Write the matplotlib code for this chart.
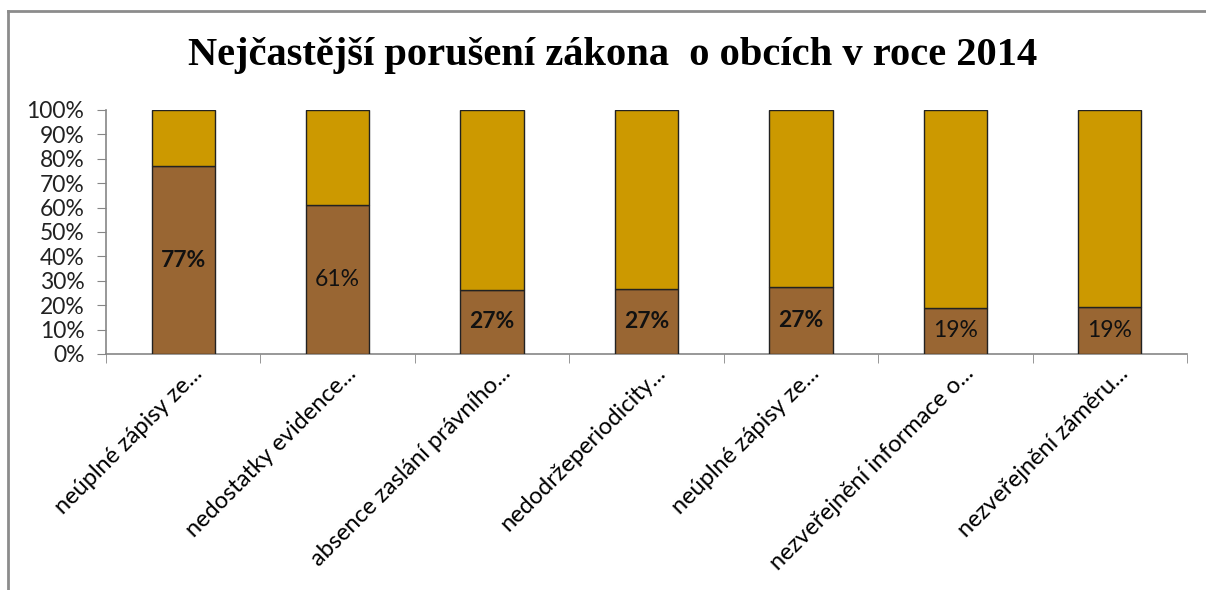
import numpy as np
import matplotlib.pyplot as plt
from matplotlib.lines import Line2D
from matplotlib.transforms import ScaledTranslation
from matplotlib.ticker import MultipleLocator, PercentFormatter

# data
categories = ['neúplné zápisy ze...', 'nedostatky evidence...', 'absence zaslání právního...',
              'nedodržeperiodicity...', 'neúplné zápisy ze...', 'nezveřejnění informace o...',
              'nezveřejnění záměru...']
violations = [77, 61, 26.4, 26.5, 27.4, 19.0, 19.4]
value_labels = ['77%', '61%', '27%', '27%', '27%', '19%', '19%']
rest = [100 - v for v in violations]

# label weights differ in the original
label_weights = ['bold', 'normal', 'bold', 'bold', 'bold', 'normal', 'normal']

brown = '#996633'
gold = '#CC9900'
axis_gray = '#868686'

plt.rcParams['font.family'] = ['Lato', 'DejaVu Sans']

fig = plt.figure(figsize=(12.06, 5.90), dpi=100)
ax = fig.add_axes([106 / 1206, 1 - 354 / 590, (1187 - 106) / 1206, 244 / 590])

x = np.arange(len(categories))
ax.bar(x, violations, width=0.41, color=brown, edgecolor='#222222', linewidth=1, zorder=3)
ax.bar(x, rest, bottom=violations, width=0.41, color=gold, edgecolor='#222222', linewidth=1, zorder=3)

for xi, v, lab, w in zip(x, violations, value_labels, label_weights):
    ax.text(xi, v / 2, lab, ha='center', va='center', fontsize=16.5, fontweight=w, color='#111111')

ax.set_xlim(-0.5, len(categories) - 0.5)
ax.set_ylim(0, 100)
ax.yaxis.set_major_locator(MultipleLocator(10))
ax.yaxis.set_major_formatter(PercentFormatter(decimals=0))

# category labels in the middle, ticks on category boundaries
ax.set_xticks(x)
ax.set_xticklabels(categories, rotation=45, ha='right', va='top', rotation_mode='anchor', fontsize=17)
ax.tick_params(axis='x', which='major', length=0, pad=6)
shift = ScaledTranslation(0.08, 0, fig.dpi_scale_trans)
for lbl in ax.get_xticklabels():
    lbl.set_transform(lbl.get_transform() + shift)
ax.set_xticks(np.arange(len(categories) + 1) - 0.5, minor=True)
ax.tick_params(axis='x', which='minor', length=6.5, color=axis_gray, direction='out')
ax.tick_params(axis='y', length=6.5, color=axis_gray, labelsize=16.5, pad=9, labelcolor='#222222')

for side in ['top', 'right']:
    ax.spines[side].set_visible(False)
for side in ['left', 'bottom']:
    ax.spines[side].set_color(axis_gray)
    ax.spines[side].set_linewidth(1.2)

fig.text(0.508, 1 - 56 / 590, 'Nejčastější porušení zákona  o obcích v roce 2014',
         ha='center', va='center', fontsize=29.2, fontweight='bold',
         family=['Liberation Serif', 'DejaVu Serif'])

# chart frame (cropped: only top and left edges visible)
fig.add_artist(Line2D([8 / 1206, 8 / 1206], [0, 1 - 11 / 590], color='#8c8c8c', linewidth=2))
fig.add_artist(Line2D([8 / 1206, 1], [1 - 11 / 590, 1 - 11 / 590], color='#8c8c8c', linewidth=2))

fig.savefig('out.png', dpi=100)
